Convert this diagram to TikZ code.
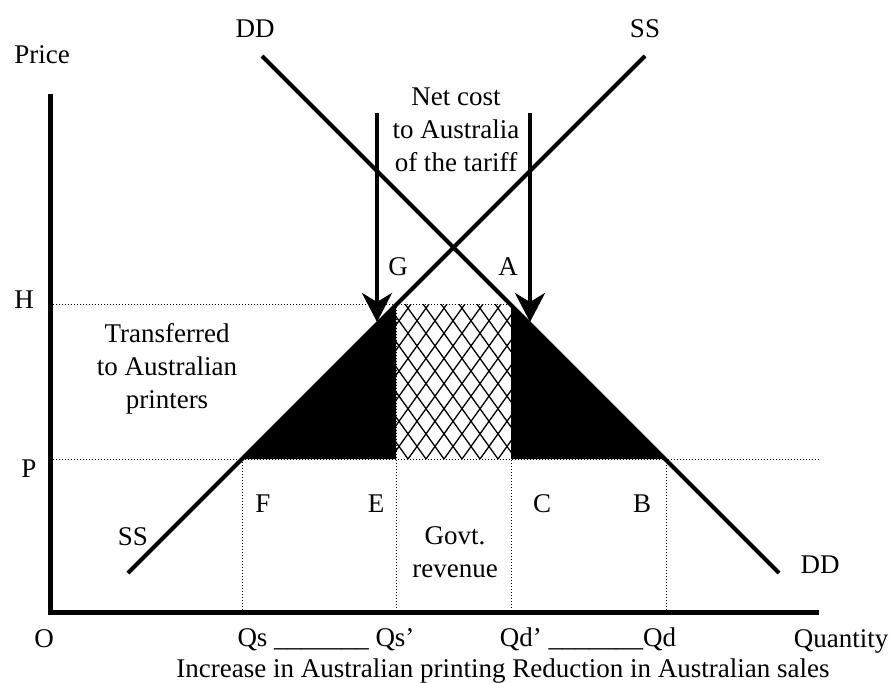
\documentclass[tikz,border=0pt]{standalone}
\usepackage{fontspec}
\setmainfont{Liberation Serif}
\usetikzlibrary{arrows.meta, positioning}
\tikzset{
	schedule/.style={line width=4pt},
	axisline/.style={line width=5pt, line join=miter},
	guide/.style={line width=1pt, dash pattern=on 1pt off 2pt},
	hatchline/.style={line width=1.3pt},
	% plain text labels, placed on their baseline
	txt/.style={anchor=base, inner sep=0pt},
	block/.style={anchor=center, align=center, inner sep=0pt},
}

\begin{document}
\begin{tikzpicture}[x=1pt, y=-1pt, font=\fontsize{27}{33}\selectfont]
		\useasboundingbox (0,0) rectangle (890,682);
		
		\coordinate (o) at (50,612);
		\coordinate (yTop) at (50,94);
		\coordinate (xEnd) at (819,612);
		\coordinate (hAx) at (50,304);
		\coordinate (pAx) at (50,459);
		\coordinate (pEnd) at (820,459);
		
		\coordinate (qsP) at (242,459);
		\coordinate (qs2P) at (396,459);
		\coordinate (qs2H) at (396,304);
		\coordinate (qd2H) at (511,304);
		\coordinate (qd2P) at (511,459);
		\coordinate (qdP) at (666,459);
		
		\coordinate (ss0) at (128,573);
		\coordinate (ss1) at (645,56);
		\coordinate (dd0) at (262,56);
		\coordinate (dd1) at (779,573);
		
		\coordinate (arrL) at (377,113);
		\coordinate (tipL) at (377,322);
		\coordinate (arrR) at (530,113);
		\coordinate (tipR) at (530,322);
		
		\draw[guide] (hAx) -- (qd2H);
		\draw[guide] (pAx) -- (pEnd);
		\draw[guide] (qsP) -- (qsP |- o);
		\draw[guide] (qs2H) -- (qs2H |- o);
		\draw[guide] (qd2H) -- (qd2H |- o);
		\draw[guide] (qdP) -- (qdP |- o);
		
		\fill (qsP) -- (qs2P) -- (qs2H) -- cycle;
		\fill (qd2H) -- (qd2P) -- (qdP) -- cycle;
		
		\begin{scope}
			\clip (qs2P) rectangle (qd2H);
			\foreach \k in {0,...,19}
				\draw[hatchline] (282+18*\k,459) -- ++(111,-155) (282+18*\k,459) -- ++(-111,-155);
		\end{scope}
		
		\draw[schedule] (ss0) -- (ss1);
		\draw[schedule] (dd0) -- (dd1);
		\draw[axisline] (yTop) -- (o) -- (xEnd);
		
		\node (price) [txt] at (42,64) {Price};
		\node (ddTop) [txt] at (255,38) {DD};
		\node (ssTop) [txt] at (645,38) {SS};
		\node (netCost) [block] at (456,130) {Net cost\\to Australia\\of the tariff};
		\node (lblH) [txt] at (24,308) {H};
		\node (lblP) [txt] at (29,477) {P};
		\node (lblG) [txt] at (398,275) {G};
		\node (lblA) [txt] at (508,275) {A};
		\node (transfer) [block] at (167,369) {Transferred\\to Australian\\printers};
		\node (lblF) [txt] at (263,512) {F};
		\node (lblE) [txt] at (376,512) {E};
		\node (lblC) [txt] at (542,512) {C};
		\node (lblB) [txt] at (642,512) {B};
		\node (ssBot) [txt] at (133,545) {SS};
		\node (revenue) [block] at (455,552) {Govt.\\revenue};
		\node (ddBot) [txt] at (820,573) {DD};
		\node (lblO) [txt] at (44,647) {O};
		\node (qsRange) [txt] at (326,646) {Qs \_\_\_\_\_\_\_ Qs’};
		\node (qdRange) [txt] at (588,646) {Qd’ \_\_\_\_\_\_\_Qd};
		\node (quantity) [txt] at (841,647) {Quantity};
		\node (effects) [txt] at (503,677) {Increase in Australian printing Reduction in Australian sales};
		
		\begin{scope}[line width=4pt, ->, >={Stealth[length=29pt, width=30pt, inset=9pt]}]
			\draw (arrL) -- (tipL);
			\draw (arrR) -- (tipR);
		\end{scope}
		
\end{tikzpicture}
\end{document}
